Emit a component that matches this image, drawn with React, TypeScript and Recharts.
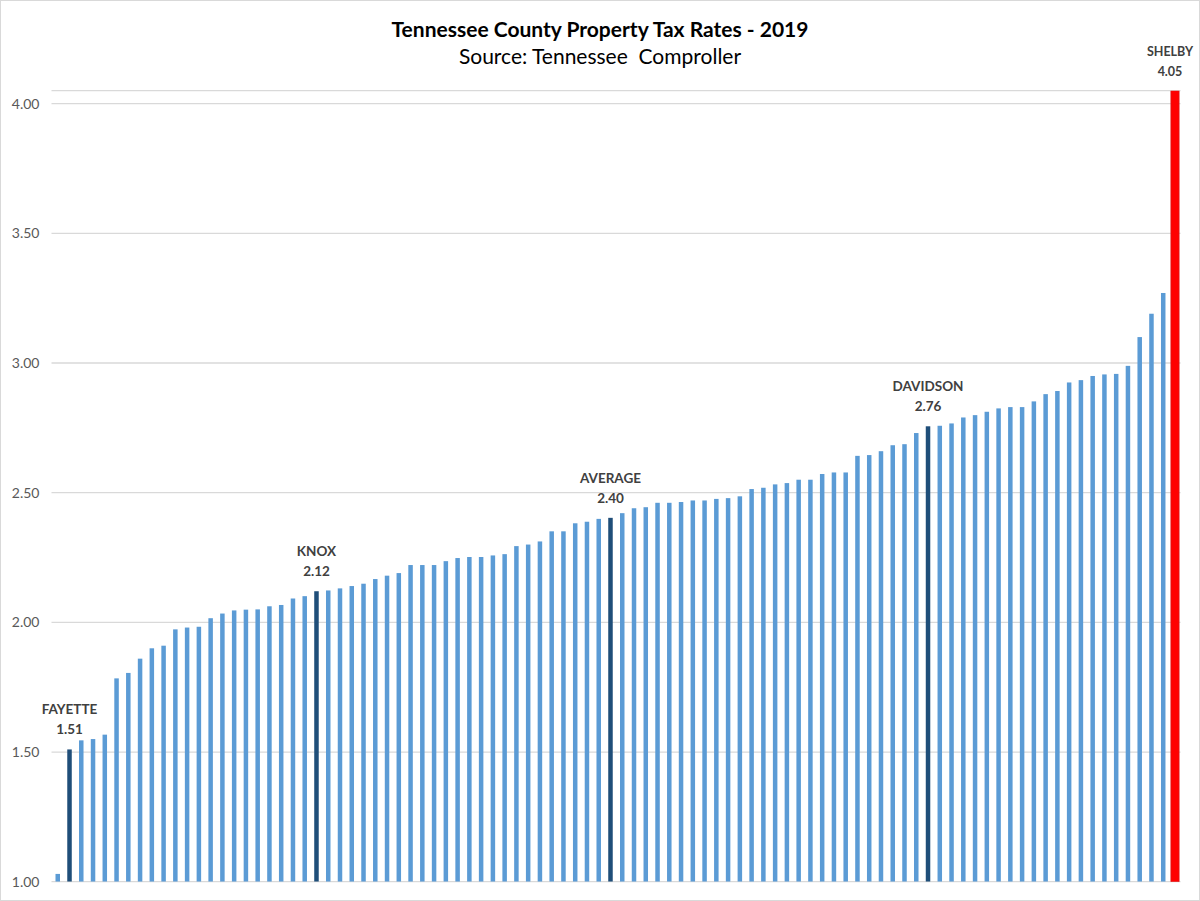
import React from "react";
import { BarChart, Bar, XAxis, YAxis, CartesianGrid, LabelList } from "recharts";

/* County rates sorted low → high (96 bars incl. the state average) */
const rates = [
  1.03, 1.51, 1.545, 1.55, 1.567, 1.784, 1.805, 1.86, 1.9, 1.91,
  1.973, 1.98, 1.983, 2.016, 2.034, 2.046, 2.049, 2.05, 2.062, 2.067,
  2.092, 2.101, 2.12, 2.123, 2.131, 2.14, 2.149, 2.167, 2.18, 2.19,
  2.221, 2.221, 2.221, 2.236, 2.248, 2.252, 2.252, 2.258, 2.263, 2.294,
  2.3, 2.312, 2.351, 2.351, 2.382, 2.388, 2.399, 2.403, 2.421, 2.44,
  2.444, 2.461, 2.461, 2.464, 2.47, 2.47, 2.476, 2.479, 2.486, 2.514,
  2.519, 2.532, 2.537, 2.55, 2.55, 2.572, 2.578, 2.578, 2.642, 2.645,
  2.66, 2.683, 2.687, 2.73, 2.756, 2.758, 2.767, 2.79, 2.799, 2.812,
  2.825, 2.83, 2.83, 2.852, 2.88, 2.892, 2.925, 2.934, 2.95, 2.956,
  2.958, 2.989, 3.1, 3.19, 3.27, 4.05,
];

// rank (1-based) → callout name
const callouts: Record<number, string> = {
  2: "FAYETTE",
  23: "KNOX",
  48: "AVERAGE",
  75: "DAVIDSON",
  96: "SHELBY",
};
const worstRank = 96;

const yTicks = [1, 1.5, 2, 2.5, 3, 3.5, 4];

const data = rates.map((rate, i) => ({ rank: i + 1, rate }));

const C = {
  bar: "#5b9bd5",
  hi: "#1f4e79",
  red: "#ff0000",
  grid: "#d9d9d9",
  tick: "#595959",
  label: "#404040",
};

const FONT = "Lato, 'Open Sans', sans-serif";

function BarShape(props: any) {
  const { x, y, width, height, payload } = props;
  if (payload.rank === worstRank) {
    const w = 8;
    const cx = x + width / 2;
    return <rect x={cx - w / 2} y={y} width={w} height={height} fill={C.red} stroke="#e41010" strokeWidth={1} />;
  }
  const fill = callouts[payload.rank] ? C.hi : C.bar;
  return <rect x={x} y={y} width={width} height={height} fill={fill} />;
}

function Callout(props: any) {
  const { x, y, width, value, index } = props;
  const rank = data[index].rank;
  const name = callouts[rank];
  if (!name) return null;
  const shelby = rank === worstRank;
  const cx = x + width / 2 - (shelby ? 5 : 0);
  return (
    <text
      x={cx}
      textAnchor="middle"
      fontFamily={FONT}
      fontWeight={700}
      fontSize={shelby ? 12.5 : 13.5}
      fill={C.label}
    >
      <tspan x={cx} y={y - 35}>{name}</tspan>
      <tspan x={cx} y={y - 15}>{Number(value).toFixed(2)}</tspan>
    </text>
  );
}

export default function App() {
  return (
    <div
      style={{
        position: "absolute",
        left: 0,
        top: 0,
        width: 1200,
        height: 901,
        background: "#fff",
        boxShadow: "inset 0 0 0 1px #d9d9d9",
        fontFamily: FONT,
      }}
    >
      <div style={{ position: "absolute", top: 16, left: 0, width: 1200, textAlign: "center", fontSize: 21, fontWeight: 700, color: "#000" }}>
        Tennessee County Property Tax Rates - 2019
      </div>
      <div style={{ position: "absolute", top: 43, left: 0, width: 1200, textAlign: "center", fontSize: 21, color: "#000", whiteSpace: "pre" }}>
        Source: Tennessee  Comproller
      </div>
      <div style={{ position: "absolute", left: 0, top: 0 }}>
        <BarChart
          width={1200}
          height={901}
          data={data}
          margin={{ top: 90.7, right: 19.5, left: 0, bottom: 19.3 }}
          barSize={4.5}
        >
          <CartesianGrid horizontal vertical={false} stroke={C.grid} strokeWidth={1.3} />
          <XAxis dataKey="rank" hide />
          <YAxis
            type="number"
            domain={[1, 4.05]}
            ticks={yTicks}
            allowDataOverflow
            width={51.5}
            axisLine={false}
            tickLine={false}
            tickSize={0}
            tickMargin={12}
            tickFormatter={(v: number) => v.toFixed(2)}
            tick={{ fontSize: 14, fill: C.tick, fontFamily: FONT }}
          />
          <Bar dataKey="rate" isAnimationActive={false} shape={BarShape}>
            <LabelList dataKey="rate" content={Callout} />
          </Bar>
        </BarChart>
      </div>
    </div>
  );
}
